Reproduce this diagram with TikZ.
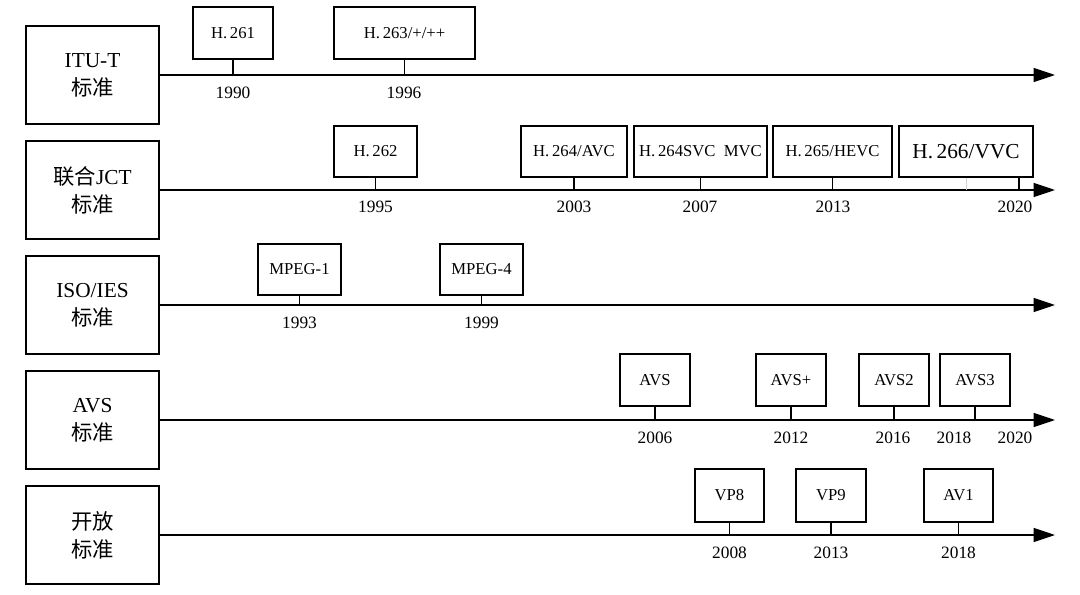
\documentclass[tikz,border=0pt]{standalone}
\usepackage{fontspec}
\setmainfont{Liberation Serif}
\newfontfamily\cjk{Noto Sans CJK SC}
\usetikzlibrary{arrows.meta,fit}
\begin{document}
\begin{tikzpicture}[x=0.75pt,y=-0.75pt,
  bx/.style={draw, line width=0.9pt, inner sep=0pt},
  bl/.style={inner sep=0pt, font=\fontsize{12.5}{14}\selectfont},
  bigbl/.style={inner sep=0pt, font=\fontsize{16}{18}\selectfont},
  ll/.style={inner sep=0pt, align=center, font=\fontsize{16}{21}\selectfont},
  yr/.style={inner sep=0pt, font=\fontsize{13}{15}\selectfont},
  axisline/.style={line width=1pt, -{Triangle[length=16pt,width=10.5pt]}},
  stemline/.style={line width=0.9pt},
  faint/.style={line width=0.5pt, black!18}]
\useasboundingbox (0,0) rectangle (1080,595);

% ---------- Row 1: ITU-T ----------
\node[bx, fit={(26,26)(159,124)}, label={[ll]center:{ITU-T\\{\cjk 标准}}}] (L1) {};
\coordinate (E1) at (1055,75);
\draw[axisline] (L1.east) -- (E1);
\node[bx, fit={(193,7)(273,59)}, label={[bl]center:H.\,261}] (h261) {};
\node[bx, fit={(334,7)(475,59)}, label={[bl]center:H.\,263/+/++}] (h263) {};
\draw[stemline] (h261.south) -- (h261.south |- E1);
\draw[stemline] (h263.south) -- (h263.south |- E1);
\node[yr] (y1990) at (233,93) {1990};
\node[yr] (y1996) at (404,93) {1996};

% ---------- Row 2: JCT ----------
\node[bx, fit={(26,141)(159,239)}, label={[ll]center:{{\cjk 联合}JCT\\{\cjk 标准}}}] (L2) {};
\coordinate (E2) at (1055,190);
\draw[axisline] (L2.east) -- (E2);
\node[bx, fit={(334,126)(417,177)}, label={[bl]center:H.\,262}] (h262) {};
\node[bx, fit={(521,126)(627,177)}, label={[bl]center:H.\,264/AVC}] (h264) {};
\node[bx, fit={(634,126)(767,177)}, label={[bl]center:H.\,264SVC\ \ MVC}] (svc) {};
\node[bx, fit={(773,126)(892,177)}, label={[bl]center:H.\,265/HEVC}] (h265) {};
\node[bx, fit={(899,126)(1033,177)}, label={[bigbl]center:H.\,266/VVC}] (h266) {};
\coordinate (s266) at (1019,0);
\draw[stemline] (h262.south) -- (h262.south |- E2);
\draw[stemline] (h264.south) -- (h264.south |- E2);
\draw[stemline] (svc.south) -- (svc.south |- E2);
\draw[stemline] (h265.south) -- (h265.south |- E2);
\draw[faint] (h266.south) -- (h266.south |- E2);
\draw[stemline] (s266 |- h266.south) -- (s266 |- E2);
\node[yr] (y1995) at (375.5,207) {1995};
\node[yr] (y2003) at (574,207) {2003};
\node[yr] (y2007) at (700,207) {2007};
\node[yr] (y2013a) at (833,207) {2013};
\node[yr] (y2020a) at (1015,207) {2020};

% ---------- Row 3: ISO/IES ----------
\node[bx, fit={(26,256)(159,354)}, label={[ll]center:{ISO/IES\\{\cjk 标准}}}] (L3) {};
\coordinate (E3) at (1055,305);
\draw[axisline] (L3.east) -- (E3);
\node[bx, fit={(258,244)(341,295)}, label={[bl]center:MPEG-1}] (mp1) {};
\node[bx, fit={(440,244)(523,295)}, label={[bl]center:MPEG-4}] (mp4) {};
\draw[stemline] (mp1.south) -- (mp1.south |- E3);
\draw[stemline] (mp4.south) -- (mp4.south |- E3);
\node[yr] (y1993) at (299.5,323) {1993};
\node[yr] (y1999) at (481.5,323) {1999};

% ---------- Row 4: AVS ----------
\node[bx, fit={(26,371)(159,469)}, label={[ll]center:{AVS\\{\cjk 标准}}}] (L4) {};
\coordinate (E4) at (1055,420);
\draw[axisline] (L4.east) -- (E4);
\node[bx, fit={(620,354)(690,406)}, label={[bl]center:AVS}] (avs) {};
\node[bx, fit={(756,354)(826,406)}, label={[bl]center:AVS+}] (avsp) {};
\node[bx, fit={(859,354)(929,406)}, label={[bl]center:AVS2}] (avs2) {};
\node[bx, fit={(940,354)(1010,406)}, label={[bl]center:AVS3}] (avs3) {};
\draw[stemline] (avs.south) -- (avs.south |- E4);
\draw[stemline] (avsp.south) -- (avsp.south |- E4);
\draw[stemline] (avs2.south) -- (avs2.south |- E4);
\draw[stemline] (avs3.south) -- (avs3.south |- E4);
\node[yr] (y2006) at (655,438) {2006};
\node[yr] (y2012) at (791,438) {2012};
\node[yr] (y2016) at (893,438) {2016};
\node[yr] (y2018a) at (954,438) {2018};
\node[yr] (y2020b) at (1015,438) {2020};

% ---------- Row 5: open ----------
\node[bx, fit={(26,486)(159,584)}, label={[ll]center:{{\cjk 开放}\\{\cjk 标准}}}] (L5) {};
\coordinate (E5) at (1055,535);
\draw[axisline] (L5.east) -- (E5);
\node[bx, fit={(695,469)(764,522)}, label={[bl]center:VP8}] (vp8) {};
\node[bx, fit={(796,469)(866,522)}, label={[bl]center:VP9}] (vp9) {};
\node[bx, fit={(924,469)(993,522)}, label={[bl]center:AV1}] (av1) {};
\draw[stemline] (vp8.south) -- (vp8.south |- E5);
\draw[stemline] (vp9.south) -- (vp9.south |- E5);
\draw[stemline] (av1.south) -- (av1.south |- E5);
\node[yr] (y2008) at (729.5,553) {2008};
\node[yr] (y2013b) at (831,553) {2013};
\node[yr] (y2018b) at (958.5,553) {2018};
\end{tikzpicture}
\end{document}
